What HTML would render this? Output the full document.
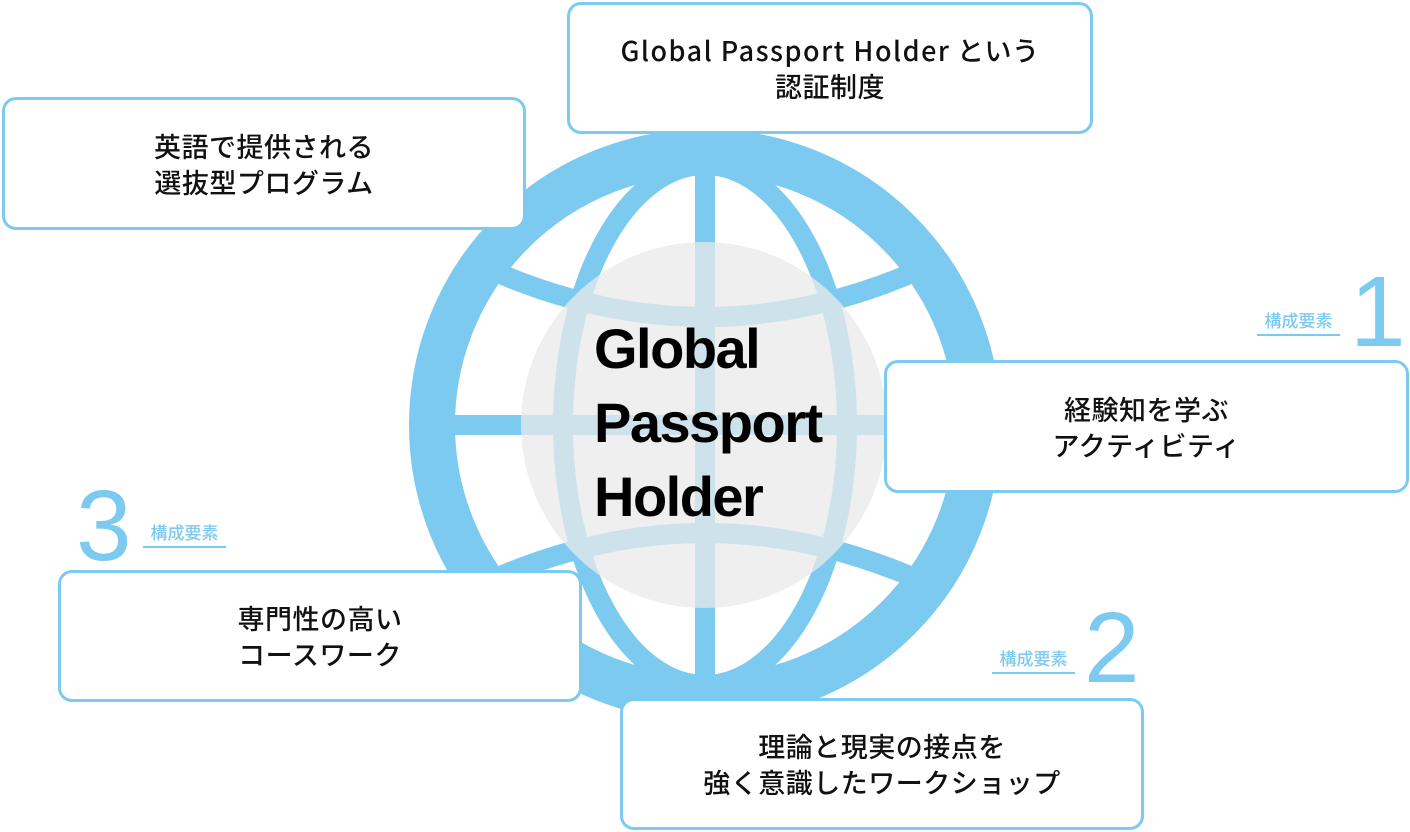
<!DOCTYPE html>
<html><head><meta charset="utf-8"><style>
html,body{margin:0;padding:0;background:#fff;}
body{width:1410px;height:832px;position:relative;overflow:hidden;font-family:"Liberation Sans","Noto Sans CJK JP",sans-serif;}
.box{position:absolute;box-sizing:border-box;border:3px solid #7ccaf0;border-radius:14px;background:#fff;display:flex;align-items:center;justify-content:center;text-align:center;font-size:27px;line-height:36px;letter-spacing:0.5px;color:#111;font-family:"Noto Sans CJK JP",sans-serif;font-weight:500;}
.box .l{letter-spacing:1.5px;}
.lab{position:absolute;color:#7ccaf0;font-size:17px;line-height:20px;border-bottom:2px solid #7ccaf0;padding-bottom:4px;width:83px;text-align:center;font-family:"Noto Sans CJK JP",sans-serif;font-weight:500;}
.num{position:absolute;color:#7ccaf0;font-size:100px;line-height:100px;font-weight:300;}
</style></head><body>
<svg width="1410" height="832" style="position:absolute;left:0;top:0">
<defs><clipPath id="c"><circle cx="705" cy="425" r="252"/></clipPath></defs>
<circle cx="705" cy="425" r="273" fill="none" stroke="#7ccaf0" stroke-width="46"/>
<g clip-path="url(#c)">
<ellipse cx="705" cy="425" rx="142" ry="260" fill="none" stroke="#7ccaf0" stroke-width="20"/>
<line x1="705" y1="160" x2="705" y2="690" stroke="#7ccaf0" stroke-width="20"/>
<line x1="440" y1="425" x2="970" y2="425" stroke="#7ccaf0" stroke-width="20"/>
<path d="M440 245 Q705 389 970 245" fill="none" stroke="#7ccaf0" stroke-width="20"/>
<path d="M440 605 Q705 461 970 605" fill="none" stroke="#7ccaf0" stroke-width="20"/>
</g>
<circle cx="704" cy="425" r="183" fill="#e9e9e9" fill-opacity="0.75"/>
</svg>
<div style="position:absolute;left:594px;top:312px;font-size:56px;line-height:74px;font-weight:bold;letter-spacing:-1.5px;color:#000;">Global<br>Passport<br>Holder</div>
<div class="box" style="left:567px;top:2px;width:526px;height:132px;"><div><span class="l">Global Passport Holder</span> という<br>認証制度</div></div>
<div class="box" style="left:2px;top:97px;width:524px;height:133px;">英語で提供される<br>選抜型プログラム</div>
<div class="box" style="left:884px;top:360px;width:525px;height:133px;">経験知を学ぶ<br>アクティビティ</div>
<div class="box" style="left:58px;top:570px;width:524px;height:132px;">専門性の高い<br>コースワーク</div>
<div class="box" style="left:620px;top:698px;width:524px;height:132px;">理論と現実の接点を<br>強く意識したワークショップ</div>
<div class="lab" style="left:1257px;top:310px;">構成要素</div>
<div class="num" style="left:1350px;top:262px;">1</div>
<div class="lab" style="left:992px;top:648px;">構成要素</div>
<div class="num" style="left:1084px;top:598px;">2</div>
<div class="lab" style="left:143px;top:522px;">構成要素</div>
<div class="num" style="left:76px;top:476px;">3</div>
</body></html>
